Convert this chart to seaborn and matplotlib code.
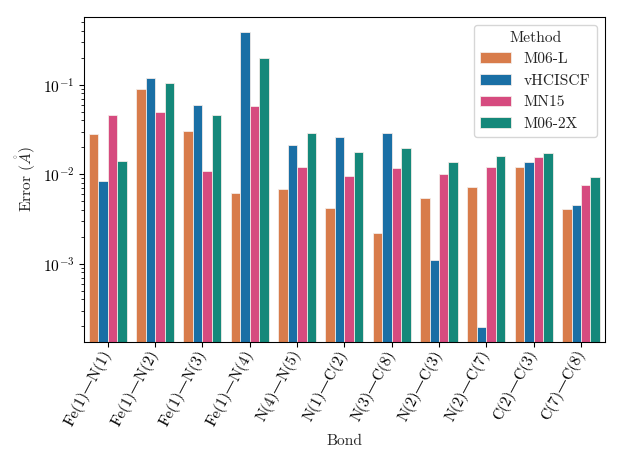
import numpy as np
import pandas as pd
import matplotlib
matplotlib.use('Agg')
import matplotlib.pyplot as plt
import seaborn as sns

# bond labels and per-method errors (Angstrom)
bonds = ['Fe(1)—N(1)', 'Fe(1)—N(2)', 'Fe(1)—N(3)', 'Fe(1)—N(4)', 'N(4)—N(5)', 'N(1)—C(2)',
         'N(3)—C(8)', 'N(2)—C(3)', 'N(2)—C(7)', 'C(2)—C(3)', 'C(7)—C(8)']
methods = ['M06-L', 'vHCISCF', 'MN15', 'M06-2X']

m06l = [0.0284, 0.0895, 0.0304, 0.00614, 0.00689, 0.00417, 0.00220, 0.00536, 0.00728, 0.0119, 0.00408]
vhciscf = [0.0084, 0.1197, 0.0593, 0.388, 0.0210, 0.0262, 0.0291, 0.00111, 0.000196, 0.0136, 0.00448]
mn15 = [0.0458, 0.0496, 0.0109, 0.0578, 0.0120, 0.00957, 0.0117, 0.0100, 0.0120, 0.0154, 0.00764]
m062x = [0.0140, 0.105, 0.0454, 0.199, 0.0288, 0.0178, 0.0198, 0.0138, 0.0158, 0.0171, 0.00937]

palette = ['#d87c4b', '#1a6fa5', '#d64b7f', '#15887a']

sns.set_style('ticks')
plt.rcParams['font.family'] = ['cmr10', 'DejaVu Serif']
plt.rcParams['font.size'] = 11.5
plt.rcParams['mathtext.fontset'] = 'cm'
plt.rcParams['axes.formatter.use_mathtext'] = True
plt.rcParams['axes.edgecolor'] = 'black'
plt.rcParams['xtick.color'] = 'black'
plt.rcParams['ytick.color'] = 'black'

df = pd.DataFrame({
    'Bond': bonds * 4,
    'Method': np.repeat(methods, len(bonds)),
    'Error': m06l + vhciscf + mn15 + m062x,
})

fig = plt.figure(figsize=(6.4, 4.8), dpi=97.3)
ax = fig.add_axes([0.135, 0.268, 0.836, 0.696])
sns.barplot(data=df, x='Bond', y='Error', hue='Method', hue_order=methods,
            palette=palette, saturation=1, linewidth=0.6, edgecolor='#f4ece8', ax=ax)
ax.set_yscale('log')
ax.set_ylim(1.34e-4, 0.575)
ax.set_xlabel('Bond')
ax.set_ylabel(r'Error ($\mathring{A}$)')
plt.setp(ax.get_xticklabels(), rotation=62, ha='right', va='center', rotation_mode='anchor')
ax.legend(title='Method', loc='upper right')

fig.savefig('out.png', dpi=97.3)
